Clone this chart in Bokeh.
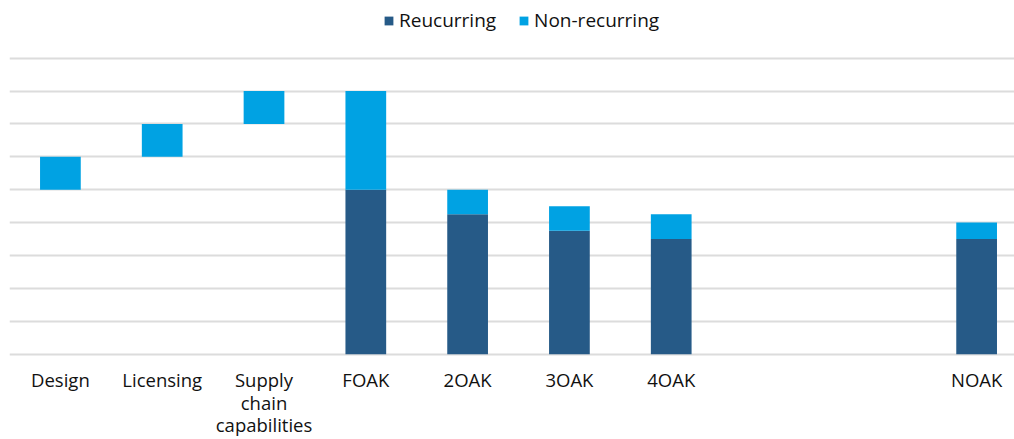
from bokeh.plotting import figure
from bokeh.models import Range1d, FixedTicker, ColumnDataSource
from bokeh.core.properties import value
from bokeh.embed import file_html
from bokeh.resources import INLINE

# ---- data ----
categories = ["Design", "Licensing", "Supply\nchain\ncapabilities", "FOAK", "2OAK",
              "3OAK", "4OAK", "", "", "NOAK"]
base = [5, 6, 7, 0, 0, 0, 0, 0, 0, 0]
recurring = [0, 0, 0, 5, 4.25, 3.75, 3.5, 0, 0, 3.5]
non_recurring = [1, 1, 1, 3, 0.75, 0.75, 0.75, 0, 0, 0.5]
grid_values = list(range(10))

DARK = "#265a87"
LIGHT = "#00a2e3"
FONT = "Open Sans"

xpos = list(range(len(categories)))
rec_bottom = [b for b in base]
rec_top = [b + r for b, r in zip(base, recurring)]
non_bottom = rec_top
non_top = [t + n for t, n in zip(rec_top, non_recurring)]

src = ColumnDataSource(dict(x=xpos, cat=categories, rb=rec_bottom, rt=rec_top,
                            nb=non_bottom, nt=non_top,
                            ly=[-0.40] * len(categories)))

p = figure(width=1014, height=439, x_range=Range1d(-0.5, 9.372),
           y_range=Range1d(-2.593, 10.751), toolbar_location=None,
           output_backend="svg", min_border_left=9, min_border_right=0,
           min_border_top=0, min_border_bottom=0)
p.outline_line_color = None
p.background_fill_color = "white"
p.border_fill_color = "white"

p.xaxis.visible = False
p.yaxis.visible = False
p.xgrid.visible = False
p.ygrid.ticker = FixedTicker(ticks=grid_values)
p.ygrid.grid_line_color = "#dcdcdc"
p.ygrid.grid_line_width = 2

p.vbar(x="x", bottom="rb", top="rt", width=0.4, source=src, fill_color=DARK,
       line_color=None, legend_label="Reucurring")
p.vbar(x="x", bottom="nb", top="nt", width=0.4, source=src, fill_color=LIGHT,
       line_color=None, legend_label="Non-recurring")

p.text(x="x", y="ly", text="cat", source=src, text_align="center",
       text_baseline="top", text_font=value(FONT), text_font_size="18.5px",
       text_color="#111111", text_line_height=0.9)

lg = p.legend[0]
lg.orientation = "horizontal"
lg.location = (374, 406)
lg.glyph_width = 11
lg.glyph_height = 11
lg.label_standoff = 5
lg.spacing = 22
lg.padding = 2
lg.margin = 0
lg.border_line_color = None
lg.background_fill_alpha = 0
lg.label_text_font = FONT
lg.label_text_font_size = "19px"
lg.label_text_color = "#111111"

open("out.html", "w").write(file_html(p, INLINE))
